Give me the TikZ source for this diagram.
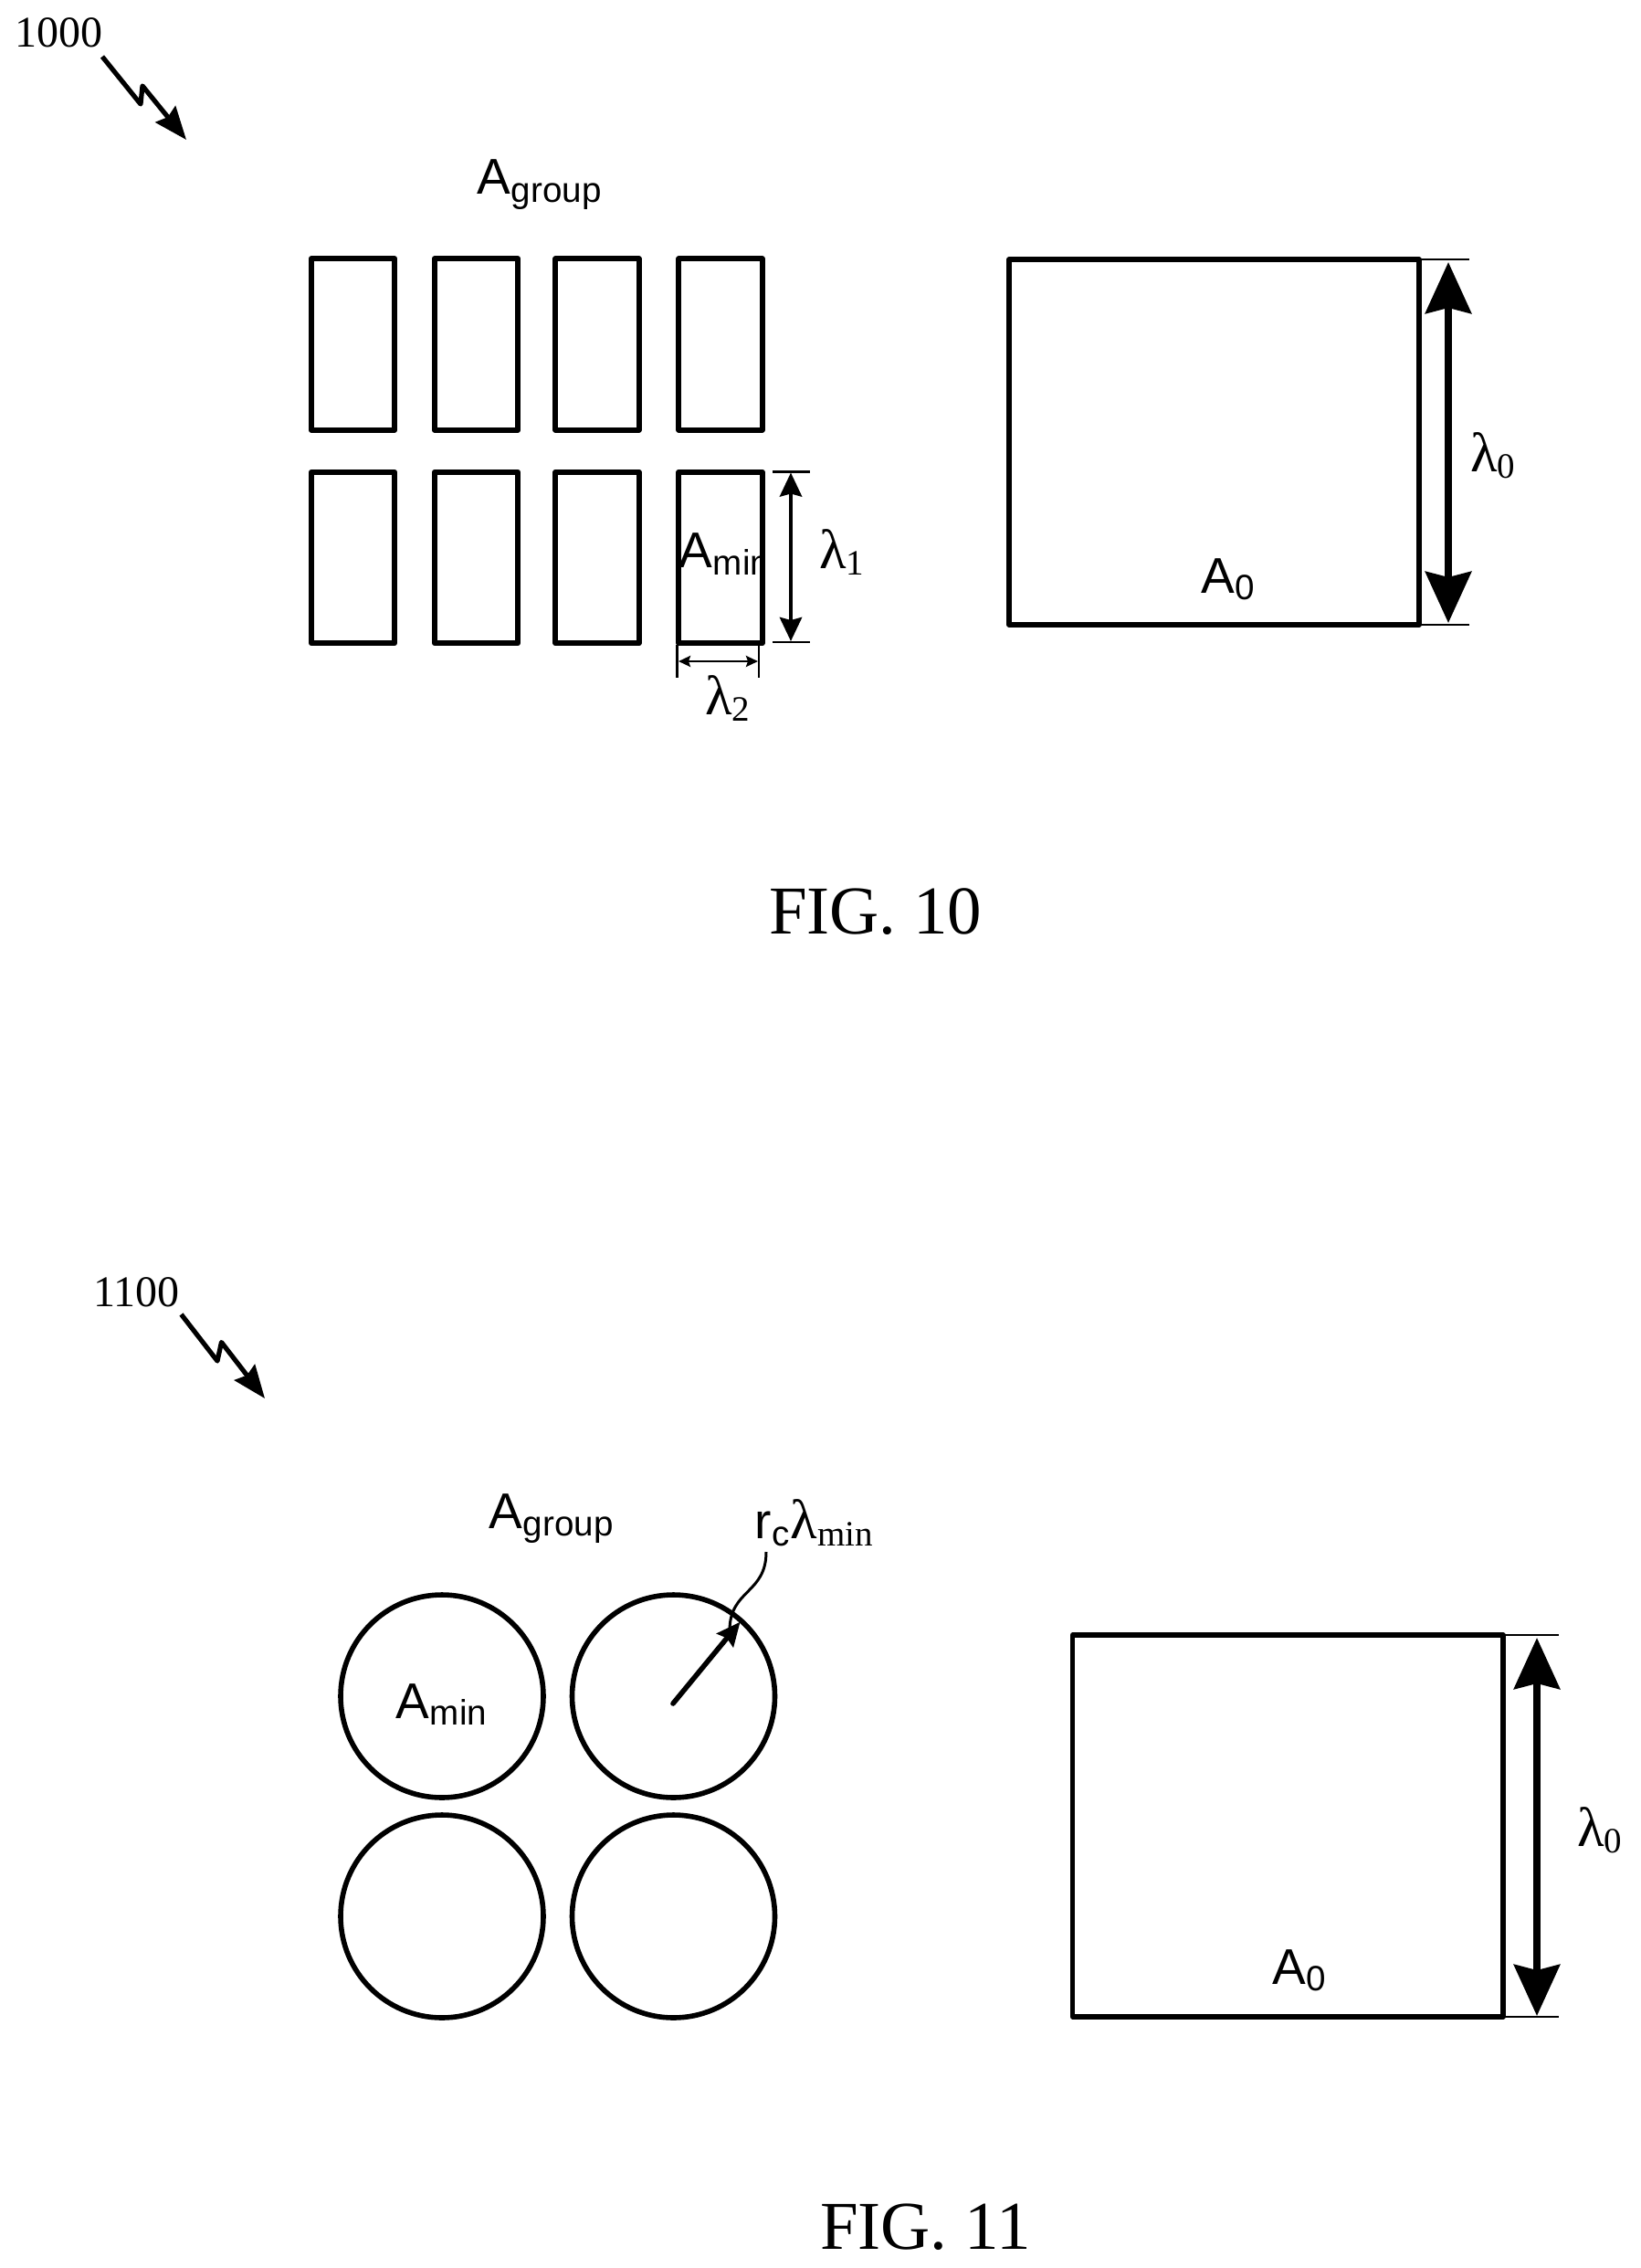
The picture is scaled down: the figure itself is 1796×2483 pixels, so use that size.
\documentclass[tikz,border=0pt]{standalone}
\usepackage{fontspec}
\setmainfont{Liberation Serif}
\newfontfamily\arialfam{Liberation Sans}
\usetikzlibrary{arrows.meta}
\newcommand{\sbig}{\arialfam\fontsize{27.5}{30}\selectfont}
\newcommand{\ssub}{\arialfam\fontsize{19.3}{21}\selectfont}
\newcommand{\lbig}{\fontsize{30.5}{32}\selectfont}
\newcommand{\lsub}{\fontsize{19.5}{21}\selectfont}
\newcommand{\sanslab}[3][4]{{\sbig #2}\hspace{0.6pt}\raisebox{-#1pt}{\ssub #3}}
\newcommand{\lamlab}[1]{{\lbig λ}\raisebox{-3.5pt}{\lsub #1}}
\begin{document}
\begin{tikzpicture}[x=0.5pt,y=-0.5pt,line join=round,
  cellbox/.style={draw,line width=2.8pt,rectangle,inner sep=0pt,outer sep=0pt,minimum width=45.75pt,minimum height=93.75pt},
  areabox/.style={draw,line width=2.8pt,rectangle,inner sep=0pt,outer sep=0pt},
  roundcell/.style={draw,line width=2.8pt,circle,inner sep=0pt,outer sep=0pt,minimum size=111pt},
  txt/.style={anchor=base west,inner sep=0pt,outer sep=0pt},
  reftext/.style={txt,font=\fontsize{24}{26}\selectfont},
  figtext/.style={txt,font=\fontsize{37.5}{40}\selectfont},
  extline/.style={line width=1.4pt},
  bolt/.style={line width=2.6pt,-{Stealth[length=18pt,width=14pt,inset=2pt]}},
  bigdim/.style={line width=4pt,{Stealth[length=28pt,width=25pt,inset=3pt]}-{Stealth[length=28pt,width=25pt,inset=3pt]}},
  middim/.style={line width=2.3pt,{Stealth[length=13pt,width=12pt,inset=1.5pt]}-{Stealth[length=13pt,width=12pt,inset=1.5pt]}},
  smalldim/.style={line width=1.3pt,{Stealth[length=6.5pt,width=6pt,inset=1pt]}-{Stealth[length=6.5pt,width=6pt,inset=1pt]}},
  leader/.style={line width=1.5pt}]
\useasboundingbox[fill=white] (0,0) rectangle (1796,2483);

% FIG. 10
\node[reftext] (ref1000) at (17,52) {1000};
\coordinate (b1a) at (112,62); \coordinate (b1b) at (154,114);
\coordinate (b1c) at (156,94); \coordinate (b1d) at (204,153);
\draw[bolt] (b1a) -- (b1b) -- (b1c) -- (b1d);
\node[txt] (agroup1) at (522,213) {\sanslab[4.5]{A}{group}};
\foreach \i/\cx in {1/386.5,2/521.5,3/654,4/789}{
  \node[cellbox] (ra\i) at (\cx,377) {};
  \node[cellbox] (rb\i) at (\cx,610.5) {};
}
\begin{scope}
  \clip (730,560) rectangle (832.5,640);
  \node[txt] (amin1) at (743,621) {\sanslab[4]{A}{min}};
\end{scope}
\coordinate (e1a) at (887,516.5); \coordinate (e1b) at (887,703);
\coordinate (e1c) at (846,516.5); \coordinate (e1d) at (846,703);
\draw[extline] (e1c) -- (e1a);
\draw[extline] (e1d) -- (e1b);
\coordinate (d1a) at (866,517.5); \coordinate (d1b) at (866,702);
\draw[middim] (d1a) -- (d1b);
\node[txt] (lam1) at (897,622) {\lamlab{1}};
\coordinate (e2a) at (741.7,706); \coordinate (e2b) at (741.7,742);
\coordinate (e2c) at (831,706); \coordinate (e2d) at (831,742);
\draw[extline] (e2a) -- (e2b);
\draw[extline] (e2c) -- (e2d);
\coordinate (d2a) at (743,724); \coordinate (d2b) at (830,724);
\draw[smalldim] (d2a) -- (d2b);
\node[txt] (lam2) at (772,782) {\lamlab{2}};

\node[areabox,minimum width=224.5pt,minimum height=200pt] (box1) at (1329.5,484) {};
\node[txt] (a01) at (1315,649) {\sanslab[3.5]{A}{0}};
\coordinate (e3a) at (1609,284); \coordinate (e3b) at (1609,684);
\draw[extline] (box1.north east) -- (e3a);
\draw[extline] (box1.south east) -- (e3b);
\coordinate (d3a) at (1586,287); \coordinate (d3b) at (1586,682);
\draw[bigdim] (d3a) -- (d3b);
\node[txt] (lam0a) at (1610,516) {\lamlab{0}};
\node[figtext] (fig10) at (842,1022) {FIG. 10};

% FIG. 11
\node[reftext] (ref1100) at (102,1430) {1100};
\coordinate (b2a) at (198.5,1439); \coordinate (b2b) at (238,1490);
\coordinate (b2c) at (242.5,1469.5); \coordinate (b2d) at (290,1531);
\draw[bolt] (b2a) -- (b2b) -- (b2c) -- (b2d);
\node[txt] (agroup2) at (535,1673) {\sanslab[4]{A}{group}};
\node[roundcell] (c11) at (484,1857) {};
\node[roundcell] (c12) at (737.5,1857) {};
\node[roundcell] (c21) at (484,2098) {};
\node[roundcell] (c22) at (737.5,2098) {};
\node[txt] (amin2) at (433,1881) {\sanslab[3.5]{A}{min}};
\node[txt] (rclam) at (826,1684) {\sanslab[4]{r}{c}\hspace{0.5pt}{\lbig λ}\raisebox{-4pt}{\lsub min}};
\coordinate (r0) at (737,1865); \coordinate (r1) at (810.6,1775.6);
\draw[line width=2.8pt,line cap=round,-{Stealth[length=13pt,width=11.5pt,inset=1.5pt]}] (r0) -- (r1);
\coordinate (l0) at (839,1699); \coordinate (l1) at (799,1785);
\draw[leader] (l0) .. controls (839,1745) and (799,1740) .. (l1);
\node[areabox,minimum width=235.7pt,minimum height=209pt] (box2) at (1410.3,1999) {};
\node[txt] (a02) at (1393,2172) {\sanslab[3.5]{A}{0}};
\coordinate (e4a) at (1707,1790); \coordinate (e4b) at (1707,2208);
\draw[extline] (box2.north east) -- (e4a);
\draw[extline] (box2.south east) -- (e4b);
\coordinate (d4a) at (1683,1793); \coordinate (d4b) at (1683,2207);
\draw[bigdim] (d4a) -- (d4b);
\node[txt] (lam0b) at (1727,2021) {\lamlab{0}};
\node[figtext] (fig11) at (898,2462) {FIG. 11};
\end{tikzpicture}
\end{document}
